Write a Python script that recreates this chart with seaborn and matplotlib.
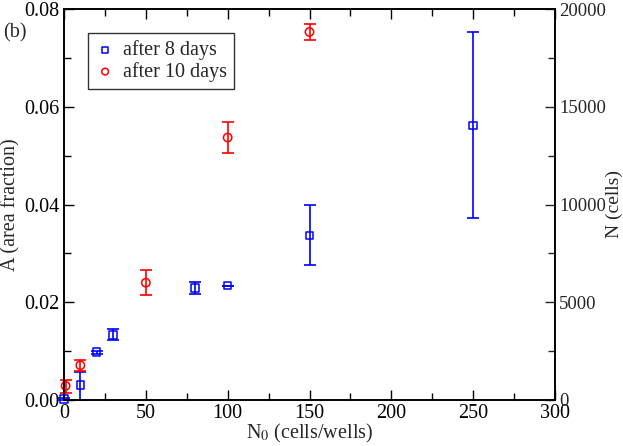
import matplotlib
matplotlib.use("Agg")
import matplotlib.pyplot as plt
import seaborn as sns
import pandas as pd
from matplotlib.ticker import MultipleLocator

# data
x8 = [0, 10, 20, 30, 80, 100, 150, 250]
y8 = [0.0002, 0.0031, 0.0098, 0.0133, 0.0229, 0.0234, 0.0337, 0.0561]
lo8 = [0.0002, 0.0031, 0.0003, 0.0010, 0.0013, 0.0, 0.0061, 0.0189]
hi8 = [0.0002, 0.0027, 0.0003, 0.0012, 0.0012, 0.0, 0.0061, 0.0191]

x10 = [1, 10, 50, 100, 150]
y10 = [0.0029, 0.0071, 0.0240, 0.0537, 0.0753]
lo10 = [0.0014, 0.0012, 0.0026, 0.0031, 0.0016]
hi10 = [0.0012, 0.0011, 0.0027, 0.0031, 0.0016]

labels = ["after 8 days", "after 10 days"]
right_ticks = [0, 5000, 10000, 15000, 20000]

sns.set_style("ticks")
plt.rcParams["font.family"] = ["Liberation Serif", "DejaVu Serif"]
plt.rcParams["mathtext.fontset"] = "stix"
fs = 14.5
blue = "#0000ff"
red = "#ff0000"

fig = plt.figure(figsize=(6.23, 4.46), dpi=100)
ax = fig.add_axes([64/623, 46/446, (555-64)/623, (400-9)/446])

df8 = pd.DataFrame({"x": x8, "y": y8})
df10 = pd.DataFrame({"x": x10, "y": y10})

ax.errorbar(x8, y8, yerr=[lo8, hi8], fmt="none", ecolor=blue,
            elinewidth=1.2, capsize=4.5, capthick=1.2, clip_on=False, zorder=2)
ax.errorbar(x10, y10, yerr=[lo10, hi10], fmt="none", ecolor=red,
            elinewidth=1.2, capsize=4.5, capthick=1.2, clip_on=False, zorder=2)

sns.scatterplot(data=df8, x="x", y="y", ax=ax, marker="s", color=blue,
                facecolor="none", edgecolor=blue, s=28, linewidth=1.1,
                label=labels[0], clip_on=False, zorder=3)
sns.scatterplot(data=df10, x="x", y="y", ax=ax, marker="o", color=red,
                facecolor="none", edgecolor=red, s=36, linewidth=1.1,
                label=labels[1], clip_on=False, zorder=3)

ax.set_xlim(0, 300)
ax.set_ylim(0, 0.08)
ax.xaxis.set_major_locator(MultipleLocator(50))
ax.xaxis.set_minor_locator(MultipleLocator(25))
ax.yaxis.set_major_locator(MultipleLocator(0.02))
ax.yaxis.set_minor_locator(MultipleLocator(0.01))
ax.yaxis.set_major_formatter(matplotlib.ticker.FormatStrFormatter("%.2f"))
ax.tick_params(axis="both", which="both", direction="in", labelsize=fs,
               top=True, right=False, width=1, colors="black", pad=3)
ax.tick_params(which="major", length=7)
ax.tick_params(which="minor", length=5)
ax.set_xlabel(r"N$_0$ (cells/wells)", fontsize=fs, labelpad=-1)
ax.set_ylabel("A (area fraction)", fontsize=fs, labelpad=3)
for sp in ax.spines.values():
    sp.set_linewidth(1.2)
    sp.set_color("black")

ax2 = ax.twinx()
ax2.set_ylim(0, 20000)
ax2.set_yticks(right_ticks)
ax2.yaxis.set_minor_locator(MultipleLocator(2500))
ax2.tick_params(axis="y", which="both", direction="in", labelsize=13.5,
                width=1, pad=3)
ax2.tick_params(which="major", length=7)
ax2.tick_params(which="minor", length=5)
ax2.set_ylabel("N (cells)", fontsize=14)
ax2.yaxis.set_label_coords(1.104, 0.5)
for sp in ax2.spines.values():
    sp.set_linewidth(1.2)
    sp.set_color("black")

leg = ax.legend(loc="upper left", bbox_to_anchor=(24/491, 1 - 24/391),
                frameon=True, fancybox=False, fontsize=fs, handletextpad=0.4,
                borderpad=0.35, labelspacing=0.1, handlelength=1.0,
                borderaxespad=0, markerscale=0.8)
leg.get_frame().set_edgecolor("black")
leg.get_frame().set_linewidth(1.0)

fig.text(3/623, 1 - 33/446, "(b)", fontsize=fs, va="center", ha="left")

fig.savefig("out.png", dpi=100)
